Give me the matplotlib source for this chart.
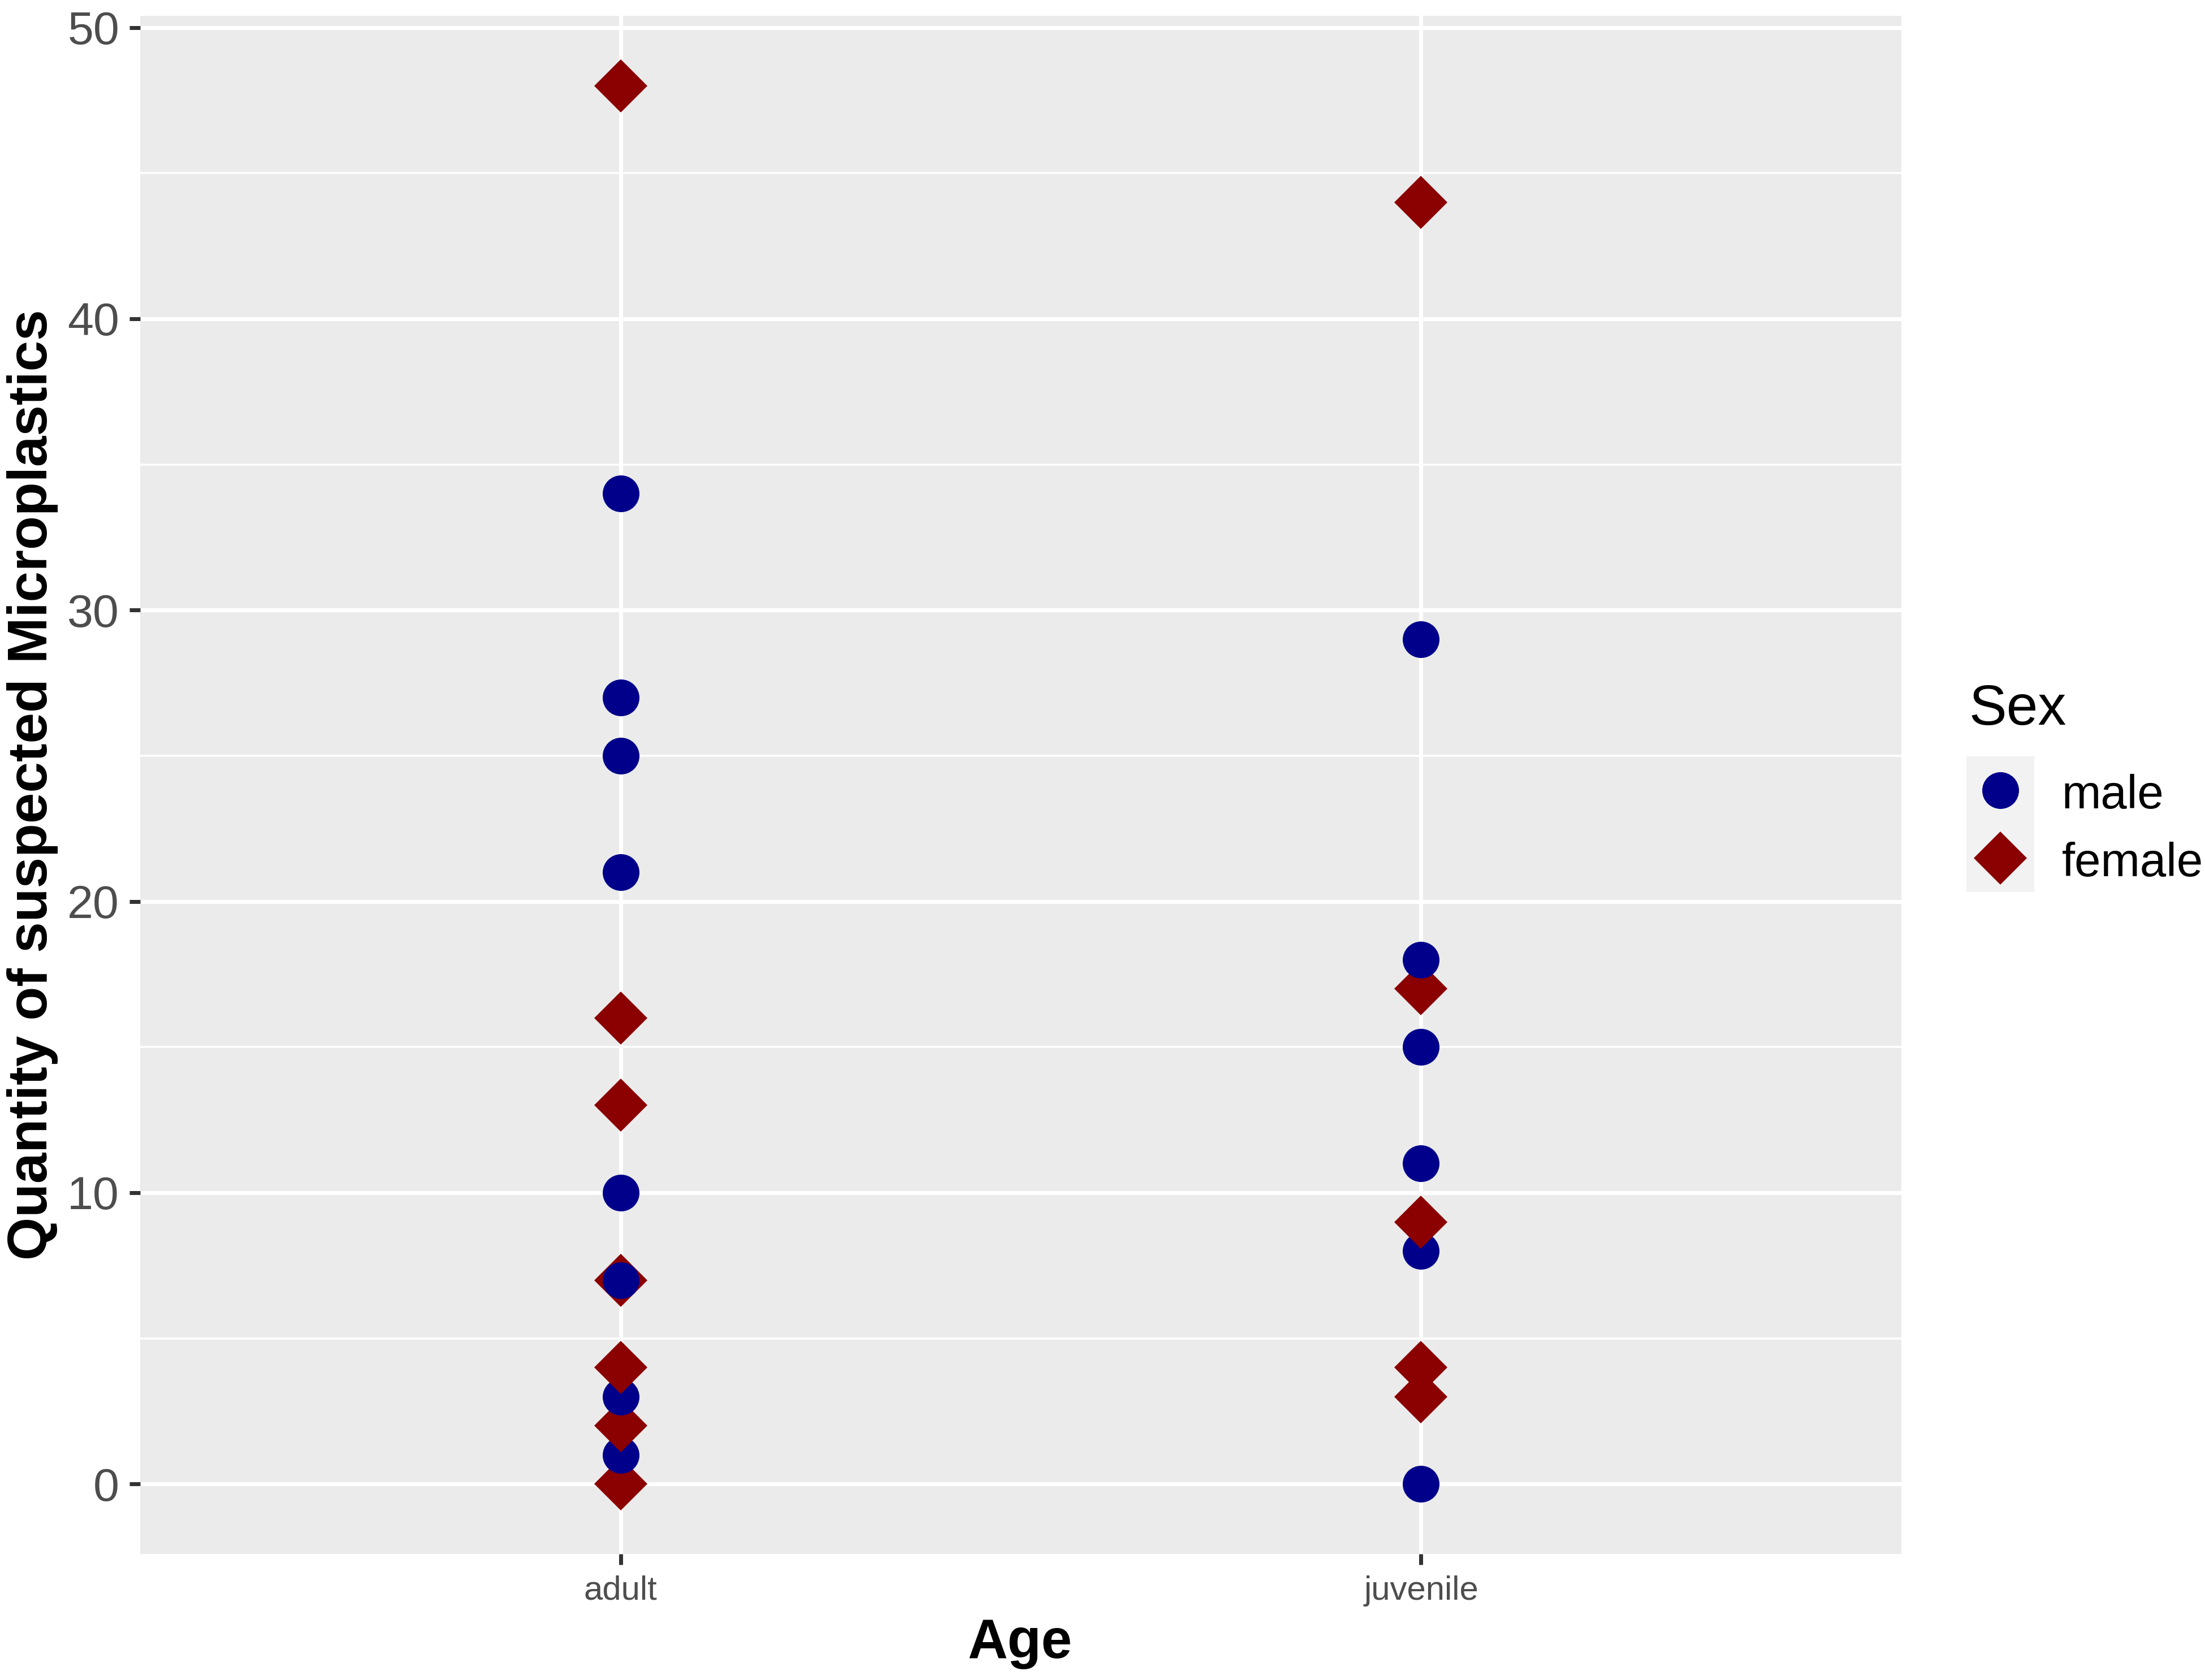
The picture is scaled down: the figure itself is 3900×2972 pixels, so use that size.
import matplotlib.pyplot as plt
from matplotlib.lines import Line2D

plt.rcParams['font.family'] = ['Liberation Sans', 'DejaVu Sans']

# data rows, in drawing order
age = ['adult'] * 15 + ['juvenile'] * 11
sex = ['female', 'male', 'female', 'male', 'female', 'female', 'male', 'male',
       'female', 'female', 'male', 'male', 'male', 'male', 'female',
       'male', 'female', 'female', 'male', 'female', 'male', 'male', 'female',
       'male', 'male', 'female']
count = [0, 1, 2, 3, 4, 7, 7, 10, 13, 16, 21, 25, 27, 34, 48,
         0, 3, 4, 8, 9, 11, 15, 17, 18, 29, 44]

age_levels = ['adult', 'juvenile']
sex_levels = ['male', 'female']
sex_marker = {'male': 'o', 'female': 'D'}
sex_colour = {'male': '#00008B', 'female': '#8B0000'}
sex_size = {'male': 15.6, 'female': 15.8}

W, H = 3900, 2972
fig = plt.figure(figsize=(W / 300, H / 300), dpi=300)
ax = fig.add_axes([248 / W, 1 - 2749 / H, (3363 - 248) / W, (2749 - 28) / H])
ax.set_facecolor('#EBEBEB')
for s in ax.spines.values():
    s.set_visible(False)

# grid
for v in range(0, 51, 10):
    ax.axhline(v, color='white', lw=1.68, zorder=1)
for v in range(5, 50, 10):
    ax.axhline(v, color='white', lw=0.84, zorder=1)
for i in range(len(age_levels)):
    ax.axvline(i + 1, color='white', lw=1.68, zorder=1)

# points
for k, (a, s, c) in enumerate(zip(age, sex, count)):
    ax.plot(age_levels.index(a) + 1, c, marker=sex_marker[s], ms=sex_size[s],
            color=sex_colour[s], mec='none', ls='none', zorder=3 + k * 0.01)

ax.set_xlim(0.4, 2.6)
ax.set_ylim(-2.4, 50.4)
ax.set_xticks([1, 2])
ax.set_xticklabels(age_levels)
ax.set_yticks(range(0, 51, 10))
ax.tick_params(axis='both', length=4.56, width=1.68, color='#333333', labelcolor='#4D4D4D')
ax.tick_params(axis='y', labelsize=19.8, pad=4.3)
ax.tick_params(axis='x', labelsize=14.4, pad=4.5)

# axis titles
fig.text(1804 / W, 1 - 2933 / H, 'Age', ha='center', va='baseline',
         fontsize=23.5, fontweight='bold')
fig.text(83 / W, 1 - 1388 / H, 'Quantity of suspected Microplastics', rotation=90,
         rotation_mode='anchor', ha='center', va='baseline',
         fontsize=23.5, fontweight='bold')

# legend
fig.text(3482 / W, 1 - 1282 / H, 'Sex', ha='left', va='baseline', fontsize=24)
kx = fig.add_axes([3478 / W, 1 - 1578 / H, 120 / W, 240 / H])
kx.set_facecolor('#F2F2F2')
kx.set_xlim(0, 1)
kx.set_ylim(0, 2)
kx.set_xticks([])
kx.set_yticks([])
for s in kx.spines.values():
    s.set_visible(False)
for j, s in enumerate(sex_levels):
    kx.plot(0.5, 1.5 - j, marker=sex_marker[s], ms=sex_size[s],
            color=sex_colour[s], mec='none', ls='none')
    fig.text(3647 / W, 1 - (1430 + 120 * j) / H, s, ha='left', va='baseline', fontsize=20)

fig.savefig('out.png', dpi=300)
